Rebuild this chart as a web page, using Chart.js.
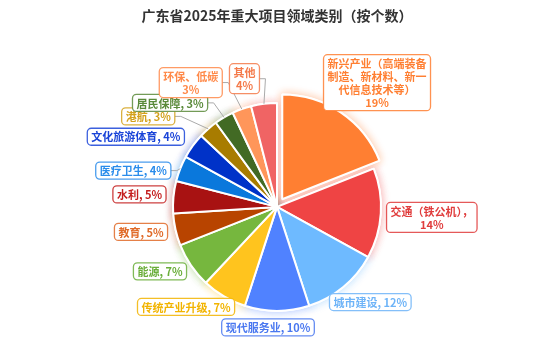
<!DOCTYPE html>
<html>
<head>
<meta charset="utf-8">
<script src="https://cdn.jsdelivr.net/npm/chart.js@4.4.1/dist/chart.umd.min.js"></script>
<style>
    html, body { margin: 0; padding: 0; background: #fff; }
    #wrap { width: 554px; height: 340px; }
</style>
</head>
<body>
<div id="wrap"><canvas id="piechart" width="554" height="340"></canvas></div>
<script>
// 领域类别及项目个数占比（%）
const categories = [
    '新兴产业（高端装备制造、新材料、新一代信息技术等）',
    '交通（铁公机）', '城市建设', '现代服务业', '传统产业升级', '能源',
    '教育', '水利', '医疗卫生', '文化旅游体育', '港航', '居民保障',
    '环保、低碳', '其他'
];
const shares = [19, 14, 12, 10, 7, 7, 5, 5, 4, 4, 3, 3, 3, 4];

const sliceColors = [
    '#FF7F32', '#EF4444', '#6EBAFF', '#5082FF', '#FFC41E', '#76B73E',
    '#B84400', '#A81212', '#0A78DC', '#0032C8', '#A87C00', '#426A24',
    '#FF965A', '#F06464'
];
const labelColors = [
    '#FF7F32', '#E03C3C', '#6EB4F8', '#4A78F0', '#F2B400', '#6AAE3A',
    '#E06A28', '#C41E1E', '#2A8CEB', '#1A44D8', '#D4A21C', '#5A8A3A',
    '#FF8A4A', '#F47A4A'
];

// 标签文字格式：{n} 名称，{v} 占比
const labelFormats = [
    '{n}\n{v}%', '{n}，\n{v}%', '{n}, {v}%', '{n}, {v}%', '{n}, {v}%',
    '{n}, {v}%', '{n}, {v}%', '{n}, {v}%', '{n}, {v}%', '{n}, {v}%',
    '{n}, {v}%', '{n}, {v}%', '{n}\n{v}%', '{n}\n{v}%'
];
// 标签框中心相对扇区外缘中点的偏移
const labelNudge = [
    [36, -30], [51, 4], [27, 15], [-9, 16.5], [-38, 10.5], [-31, 6],
    [-34.5, 2.3], [-34, -2.7], [-47, 2], [-57, -9], [-60, -12.5],
    [-54, -14.5], [-51, -26.5], [-19.5, -25]
];

const explodeIndex = 0;
const explodeOffset = 37;   // chart.js moves an arc by roughly offset / 4
const FONT = '"Noto Sans CJK SC", "Noto Sans", sans-serif';

function hexAlpha(hex, a) {
    const n = parseInt(hex.slice(1), 16);
    return 'rgba(' + (n >> 16 & 255) + ',' + (n >> 8 & 255) + ',' + (n & 255) + ',' + a + ')';
}

function wrapName(name, size) {
    const chars = Array.from(name);
    const rows = [];
    for (let i = 0; i < chars.length; i += size) rows.push(chars.slice(i, i + size).join(''));
    return rows.join('\n');
}

// same shift ArcElement.draw applies for the offset option
function arcShift(arc) {
    const offset = (arc.options.offset || 0) / 4;
    const fix = 1 - Math.sin(Math.min(Math.PI, arc.circumference || 0));
    return offset + offset * fix;
}

// soft coloured halo around the slices
const pieGlow = {
    id: 'pieGlow',
    beforeDatasetsDraw(chart) {
        const ctx = chart.ctx;
        chart.getDatasetMeta(0).data.forEach(function (arc, i) {
            ctx.save();
            ctx.shadowColor = hexAlpha(sliceColors[i], 0.45);
            ctx.shadowBlur = 8;
            arc.draw(ctx);
            ctx.restore();
        });
    }
};

// boxed labels with leader lines
const calloutLabels = {
    id: 'calloutLabels',
    afterDatasetsDraw(chart) {
        const ctx = chart.ctx;
        const PAD_X = 4, PAD_Y = 2, LINE_H = 13;
        ctx.save();
        ctx.font = 'bold 11px ' + FONT;

        const items = chart.getDatasetMeta(0).data.map(function (arc, i) {
            const p = arc.getProps(['x', 'y', 'startAngle', 'endAngle', 'outerRadius'], true);
            const mid = (p.startAngle + p.endAngle) / 2;
            const r = p.outerRadius + arcShift(arc);
            const px = p.x + Math.cos(mid) * r;
            const py = p.y + Math.sin(mid) * r;
            const text = labelFormats[i]
                .replace('{n}', wrapName(categories[i], 9))
                .replace('{v}', shares[i]);
            const lines = text.split('\n');
            const w = Math.max.apply(null, lines.map(function (l) { return ctx.measureText(l).width; })) + PAD_X * 2;
            const h = lines.length * LINE_H + PAD_Y * 2;
            const cx = px + labelNudge[i][0];
            const cy = py + labelNudge[i][1];
            return { px: px, py: py, cx: cx, cy: cy, w: w, h: h, lines: lines, i: i };
        });

        // leader lines first so the boxes sit on top
        ctx.strokeStyle = '#AAAAAA';
        ctx.lineWidth = 1;
        items.forEach(function (it) {
            const left = it.cx - it.w / 2, right = it.cx + it.w / 2;
            const top = it.cy - it.h / 2, bottom = it.cy + it.h / 2;
            const nx = Math.min(Math.max(it.px, left), right);
            const ny = Math.min(Math.max(it.py, top), bottom);
            if (Math.hypot(it.px - nx, it.py - ny) <= 9) return;
            const edgeX = it.cx < it.px ? right : left;
            const elbowX = it.cx < it.px ? right + 6 : left - 6;
            ctx.beginPath();
            ctx.moveTo(it.px, it.py);
            ctx.lineTo(elbowX, it.cy);
            ctx.lineTo(edgeX, it.cy);
            ctx.stroke();
        });

        items.forEach(function (it) {
            const x = it.cx - it.w / 2, y = it.cy - it.h / 2;
            ctx.beginPath();
            ctx.roundRect(x, y, it.w, it.h, 4);
            ctx.fillStyle = '#FFFFFF';
            ctx.fill();
            ctx.lineWidth = 1.3;
            ctx.strokeStyle = hexAlpha(labelColors[it.i], 0.85);
            ctx.stroke();
            ctx.fillStyle = labelColors[it.i];
            ctx.textAlign = 'center';
            ctx.textBaseline = 'middle';
            it.lines.forEach(function (line, k) {
                ctx.fillText(line, it.cx, y + PAD_Y + LINE_H * k + LINE_H / 2 + 0.5);
            });
        });
        ctx.restore();
    }
};

function createPieChart() {
    const ctx = document.getElementById('piechart').getContext('2d');
    new Chart(ctx, {
        type: 'pie',
        data: {
            labels: categories,
            datasets: [{
                data: shares,
                backgroundColor: sliceColors,
                borderColor: '#FFFFFF',
                borderWidth: 2,
                radius: 104,
                offset: shares.map(function (v, i) { return i === explodeIndex ? explodeOffset : 0; })
            }]
        },
        options: {
            responsive: false,
            animation: false,
            layout: { padding: 0 },
            plugins: {
                legend: { display: false },
                tooltip: { enabled: false },
                title: {
                    display: true,
                    text: '广东省2025年重大项目领域类别（按个数）',
                    color: '#333333',
                    font: { family: FONT, size: 14, weight: 'bold' },
                    padding: { top: 7, bottom: 50 }
                }
            }
        },
        plugins: [pieGlow, calloutLabels]
    });
}

document.addEventListener('DOMContentLoaded', createPieChart);
</script>
</body>
</html>
